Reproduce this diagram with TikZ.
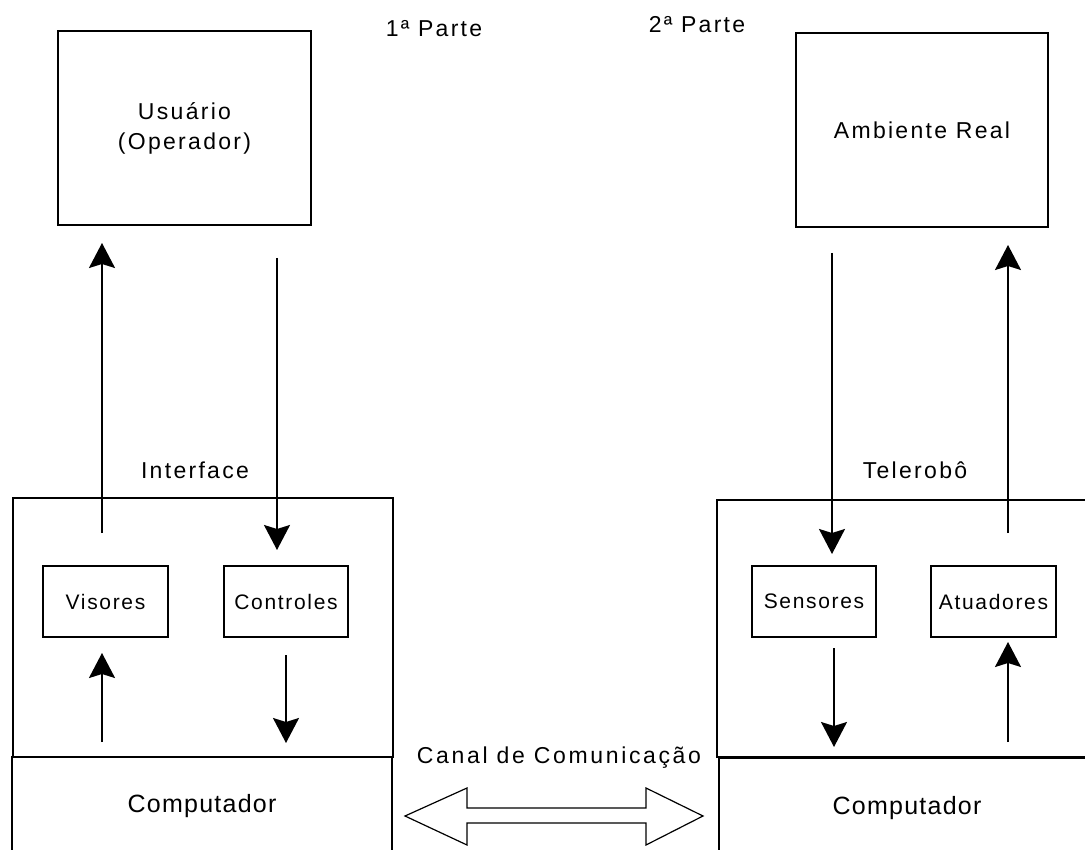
\documentclass[tikz,border=0pt]{standalone}
\usepackage{fontspec}
\setmainfont{Liberation Sans}
\newfontfamily\labelface[LetterSpace=10]{Liberation Sans}
\newfontfamily\channelface[LetterSpace=11.5]{Liberation Sans}
\newfontfamily\partface[LetterSpace=8]{Liberation Sans}
\newfontfamily\compface[LetterSpace=5]{Liberation Sans}
\usetikzlibrary{arrows.meta}
\begin{document}
\begin{tikzpicture}[x=1pt,y=-1pt,
  box/.style={draw,line width=1.8pt,rectangle,inner sep=0pt,outer sep=0pt},
  big/.style={font=\labelface\fontsize{23}{30}\selectfont,inner sep=0pt},
  part/.style={font=\partface\fontsize{21}{25}\selectfont},
  comp/.style={font=\compface\fontsize{25}{30}\selectfont},
  arr/.style={line width=1.8pt,-{Stealth[length=25pt,width=26pt,inset=4pt]}},
  channel/.style={line width=1.2pt}]
\clip (0,0) rectangle (1085,850);
\fill[white] (0,0) rectangle (1085,850);

% top level: operator and real environment
\node[box,big,align=center,minimum width=253pt,minimum height=194pt] (usr) at (184.5,128) {Usuário\\(Operador)};
\node[box,big,minimum width=252pt,minimum height=194pt] (amb) at (922,130) {Ambiente Real};

% interface and telerobot blocks
\node[box,minimum width=380pt,minimum height=259pt] (iface) at (203,627.5) {};
\node[box,minimum width=378pt,minimum height=257pt] (tele) at (906,628.5) {};
\node[box,comp,minimum width=380pt,minimum height=99pt] (compL) at (202,806.5) {Computador};
\node[box,comp,minimum width=376pt,minimum height=99pt] (compR) at (907,808) {Computador};

% inner devices
\node[box,part,minimum width=125pt,minimum height=71pt] (vis) at (105.5,601.5) {Visores};
\node[box,part,minimum width=124pt,minimum height=71pt] (ctl) at (286,601.5) {Controles};
\node[box,part,minimum width=124pt,minimum height=71pt] (sen) at (814,601.5) {Sensores};
\node[box,part,minimum width=125pt,minimum height=71pt] (atu) at (993.5,601.5) {Atuadores};

% captions
\node[big,anchor=base] (p1) at (434,37) {1ª Parte};
\node[big,anchor=base] (p2) at (697,33) {2ª Parte};
\node[big,anchor=base] (ifl) at (195,478) {Interface};
\node[big,anchor=base] (tll) at (915,478) {Telerobô};
\node[big,anchor=base,font=\channelface\fontsize{23}{30}\selectfont] (canal) at (559,763) {Canal de Comunicação};

% arrow end points
\coordinate (v1a) at (102,533);  \coordinate (v1b) at (102,243);
\coordinate (c1a) at (277,258);  \coordinate (c1b) at (277,550);
\coordinate (v2a) at (102,742);  \coordinate (v2b) at (102,653);
\coordinate (c2a) at (286,655);  \coordinate (c2b) at (286,743);
\coordinate (s1a) at (832,253);  \coordinate (s1b) at (832,554);
\coordinate (s2a) at (834,648);  \coordinate (s2b) at (834,747);
\coordinate (a1a) at (1008,533); \coordinate (a1b) at (1008,245);
\coordinate (a2a) at (1008,742); \coordinate (a2b) at (1008,642);

\draw[arr] (v1a) -- (v1b);
\draw[arr] (c1a) -- (c1b);
\draw[arr] (v2a) -- (v2b);
\draw[arr] (c2a) -- (c2b);
\draw[arr] (s1a) -- (s1b);
\draw[arr] (s2a) -- (s2b);
\draw[arr] (a1a) -- (a1b);
\draw[arr] (a2a) -- (a2b);

% communication channel: hollow double arrow
\draw[channel] (405,816) -- (467,788) -- (467,808) -- (646,808) -- (646,788)
  -- (703,816) -- (646,845) -- (646,823) -- (467,823) -- (467,845) -- cycle;
\end{tikzpicture}
\end{document}
